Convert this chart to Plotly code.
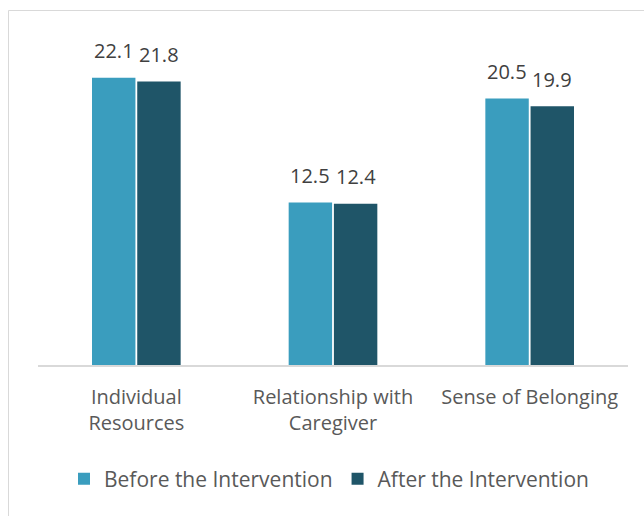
import plotly.graph_objects as go

# Scores per dimension, before and after the intervention
categories = ["Individual<br>Resources", "Relationship with<br>Caregiver", "Sense of Belonging"]
before = [22.1, 12.5, 20.5]
after = [21.8, 12.4, 19.9]
series_names = ["Before the Intervention", "After the Intervention"]

color_before = "#3A9DBE"
color_after = "#1F5568"
font_family = "Open Sans, Liberation Sans, sans-serif"

# Plot area placement in pixels (644 x 516 page)
W, H = 644, 516
L, R, T, B = 38, 16, 40, 151
pw, ph = W - L - R, H - T - B

BARGAP, GROUPGAP = 0.54, 0.04
slot = pw / len(categories) * (1 - BARGAP) / 2  # width of one bar slot in px


def px_x(x):
    return (x - L) / pw


def px_y(y):
    return (H - B - y) / ph


fig = go.Figure()
annotations = []
for i, (name, vals, col) in enumerate([(series_names[0], before, color_before),
                                       (series_names[1], after, color_after)]):
    fig.add_trace(go.Bar(
        x=categories, y=vals, name=name,
        marker=dict(color=col, line=dict(width=0)),
        hoverinfo="x+y+name",
    ))
    shift = (i - 0.5) * slot
    for c, v in zip(categories, vals):
        annotations.append(dict(
            x=c, y=v, xref="x", yref="y", text=f"{v:.1f}",
            showarrow=False, xshift=shift, yshift=27, yanchor="middle",
            font=dict(size=20, color="#404040", family=font_family),
        ))

fig.update_layout(
    width=W, height=H,
    margin=dict(l=L, r=R, t=T, b=B),
    paper_bgcolor="white", plot_bgcolor="white",
    barmode="group", bargap=BARGAP, bargroupgap=GROUPGAP,
    font=dict(family=font_family, color="#595959", size=20),
    showlegend=True,
    legend=dict(
        orientation="h", x=px_x(329), xanchor="center",
        y=px_y(479), yanchor="middle",
        font=dict(size=21, color="#595959"),
        traceorder="normal",
    ),
    xaxis=dict(
        showline=True, linecolor="#D9D9D9", linewidth=1.5,
        ticks="", tickfont=dict(size=20, color="#595959"),
        ticklabelstandoff=13,
        showgrid=False,
    ),
    yaxis=dict(range=[0, 25], visible=False, showgrid=False),
    annotations=annotations,
    shapes=[dict(
        type="rect", xref="paper", yref="paper",
        x0=px_x(8.5), x1=px_x(660), y0=px_y(530), y1=px_y(10.5),
        line=dict(color="#D9D9D9", width=1), fillcolor="rgba(0,0,0,0)",
        layer="below",
    )],
)

fig.write_html("out.html")
